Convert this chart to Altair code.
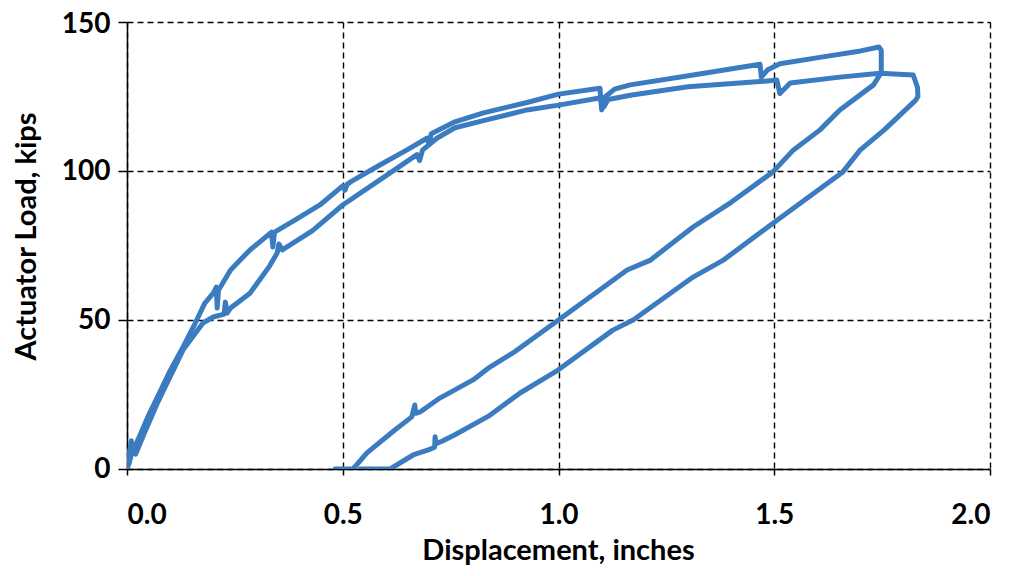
import altair as alt
import pandas as pd

# Test 1 (upper loop): loading then unloading
disp_a = [0.000, 0.004, 0.010, 0.013, 0.020, 0.035, 0.050, 0.080, 0.100, 0.130,
          0.155, 0.180, 0.200, 0.207, 0.209, 0.212, 0.240, 0.285, 0.335, 0.338,
          0.342, 0.390, 0.447, 0.500, 0.505, 0.510, 0.520, 0.586, 0.648, 0.695,
          0.700, 0.705, 0.760, 0.826, 0.927, 1.000, 1.096, 1.100, 1.105, 1.130,
          1.166, 1.312, 1.467, 1.470, 1.485, 1.513, 1.613, 1.700, 1.743, 1.748,
          1.748, 1.730, 1.652, 1.606, 1.544, 1.497, 1.400, 1.312, 1.212, 1.159,
          1.000, 0.900, 0.841, 0.802, 0.725, 0.680, 0.669, 0.667, 0.660, 0.620,
          0.556, 0.524, 0.482]
load_a = [0.0, 4.0, 9.5, 6.0, 8.0, 13.0, 18.0, 27.0, 33.0, 41.0,
          48.0, 55.6, 59.0, 61.0, 54.0, 60.0, 66.8, 73.5, 79.5, 74.5,
          79.5, 83.6, 88.6, 95.0, 93.5, 95.5, 96.5, 102.0, 107.0, 111.0,
          109.0, 112.5, 116.5, 119.5, 123.0, 125.8, 127.8, 120.5, 124.5, 127.5,
          128.9, 132.2, 135.8, 131.5, 134.0, 136.0, 138.3, 140.3, 141.6, 140.5,
          133.0, 128.9, 120.5, 113.8, 107.0, 99.7, 89.5, 81.2, 70.0, 66.8,
          50.0, 39.5, 34.2, 29.9, 23.8, 19.2, 18.7, 21.5, 17.5, 13.0,
          5.4, 0.0, 0.0]

# Test 2 (lower loop): loading then unloading
disp_b = [0.000, 0.005, 0.012, 0.020, 0.040, 0.070, 0.100, 0.130, 0.176, 0.200,
          0.225, 0.228, 0.232, 0.240, 0.285, 0.330, 0.348, 0.352, 0.360, 0.430,
          0.500, 0.586, 0.672, 0.678, 0.685, 0.718, 0.760, 0.826, 0.927, 1.000,
          1.095, 1.105, 1.115, 1.170, 1.300, 1.467, 1.506, 1.513, 1.537, 1.652,
          1.745, 1.822, 1.832, 1.833, 1.828, 1.755, 1.699, 1.659, 1.497, 1.381,
          1.312, 1.173, 1.126, 0.999, 0.911, 0.841, 0.760, 0.730, 0.716, 0.714,
          0.713, 0.700, 0.663, 0.610, 0.540]
load_b = [0.0, 2.0, 6.0, 5.0, 12.0, 22.0, 31.0, 40.0, 49.0, 51.0,
          52.0, 56.0, 52.3, 54.0, 59.0, 68.0, 72.5, 75.5, 73.5, 80.0,
          88.6, 97.0, 105.5, 103.5, 107.0, 111.0, 114.5, 116.9, 120.5, 122.1,
          124.5, 121.5, 124.0, 125.5, 128.3, 130.0, 130.5, 126.0, 129.5, 131.5,
          132.8, 132.2, 128.0, 125.0, 123.8, 113.8, 107.0, 99.7, 82.5, 70.0,
          64.4, 50.0, 46.6, 33.2, 25.5, 18.0, 11.5, 9.3, 8.5, 10.8,
          7.3, 6.5, 4.7, 0.0, 0.0]

x_ticks = [0.0, 0.5, 1.0, 1.5, 2.0]
y_ticks = [0, 50, 100, 150]

rows = []
for i, (x, y) in enumerate(zip(disp_a, load_a)):
    rows.append({"series": "A", "i": i, "x": x, "y": y})
for i, (x, y) in enumerate(zip(disp_b, load_b)):
    rows.append({"series": "B", "i": i, "x": x, "y": y})
df = pd.DataFrame(rows)

FONT = "Lato"

chart = alt.Chart(df).mark_line(
    color="#3B7BC0", strokeWidth=5, strokeCap="round", strokeJoin="round", clip=True
).encode(
    x=alt.X("x:Q", scale=alt.Scale(domain=[0, 2], nice=False),
            axis=alt.Axis(values=x_ticks, format=".1f", title="Displacement, inches",
                          tickSize=6, labelPadding=26,
                          titleX=431, titleY=90, titleBaseline="alphabetic", titleAlign="center")),
    y=alt.Y("y:Q", scale=alt.Scale(domain=[0, 150], nice=False),
            axis=alt.Axis(values=y_ticks, format="d", title="Actuator Load, kips",
                          tickSize=9, labelPadding=8,
                          labelOffset=alt.ExprRef("datum.value == 150 ? 2 : 0"),
                          titleX=-101, titleY=214, titleAngle=-90,
                          titleBaseline="middle", titleAlign="center")),
    detail="series:N",
    order="i:Q",
).properties(
    width=863, height=447,
    autosize=alt.AutoSizeParams(type="none"),
    padding={"left": 119, "top": 14, "right": 18, "bottom": 97},
).configure_view(
    strokeWidth=0
).configure_axis(
    labelFont=FONT, labelFontSize=28, labelFontWeight="bold", labelColor="black",
    titleFont=FONT, titleFontSize=29, titleFontWeight="bold", titleColor="black",
    domainColor="black", domainWidth=1.5, tickColor="black", tickWidth=1.5,
    grid=True, gridColor="black", gridDash=[6, 4], gridWidth=1.4, gridOpacity=1,
)

chart.save("out.html", embed_options={"renderer": "svg", "actions": False})
